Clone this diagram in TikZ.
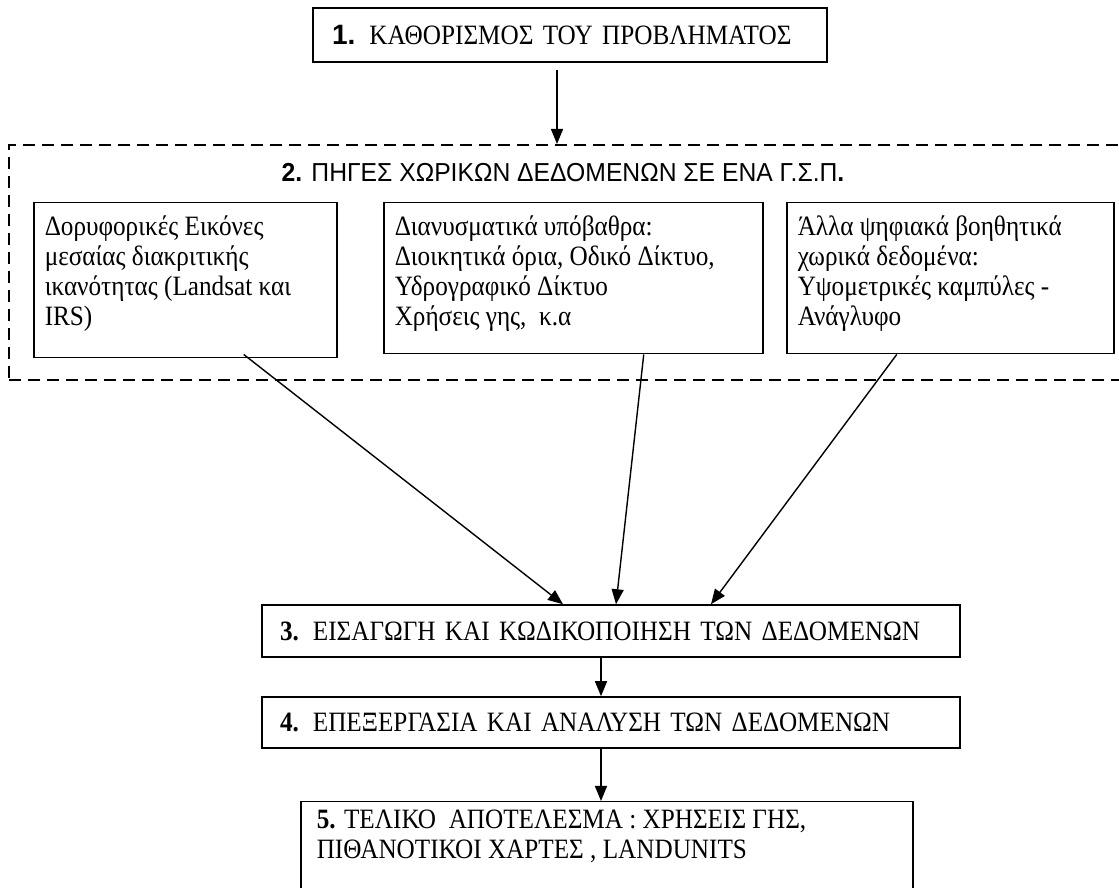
\documentclass[tikz,border=0pt]{standalone}
\usepackage{fontspec}
\setmainfont{Liberation Serif}[FakeStretch=0.9]
\newfontfamily\arialfont{Liberation Sans}
\newfontfamily\arialnarrow{Liberation Sans}[FakeStretch=0.95]
\newfontfamily\narrowfont{Liberation Serif}[FakeStretch=0.9]
\usetikzlibrary{arrows.meta}
\newcommand{\cellbox}[3]{\begin{minipage}[t][#2][t]{#1}\raggedright\fontsize{28}{30}\selectfont\strut #3\end{minipage}}
\newcommand{\lowbox}[3]{\begin{minipage}[t][#2][t]{#1}\raggedright\narrowfont\fontsize{28}{30}\selectfont\strut #3\end{minipage}}
\begin{document}
\begin{tikzpicture}[x=1pt,y=1pt,
  every node/.style={inner sep=0pt},
  frame/.style={draw=black, line width=1.5pt},
  arr/.style={draw=black, line width=1.4pt, -{Triangle[length=15pt,width=12pt]}},
  dashbox/.style={draw=black, line width=1.8pt, dash pattern=on 12pt off 7pt},
  txt/.style={font=\fontsize{28}{30}\selectfont},
  lowtxt/.style={font=\narrowfont\fontsize{28}{30}\selectfont}]
\useasboundingbox (0,0) rectangle (1119,888);
\clip (0,0) rectangle (1119,888);
\fill[white] (0,0) rectangle (1119,888);

% box 1
\node[frame, txt, minimum width=514pt, minimum height=54pt, text width=476pt,
      align=left, inner xsep=19pt] (b1) at (570,853)
  {{\arialfont\bfseries 1.} ΚΑΘΟΡΙΣΜΟΣ ΤΟΥ ΠΡΟΒΛΗΜΑΤΟΣ};

% dashed group
\node[dashbox, minimum width=1140pt, minimum height=235pt, anchor=north west] (grp) at (8,744) {};

\draw[arr] ([xshift=-13pt,yshift=-7pt]b1.south) -- ([xshift=-13pt]b1.south |- grp.north);

% title
\node[font=\arialnarrow\fontsize{26}{28}\selectfont, anchor=base] (t2) at (563,706)
  {{\bfseries 2.} ΠΗΓΕΣ ΧΩΡΙΚΩΝ ΔΕΔΟΜΕΝΩΝ ΣΕ ΕΝΑ Γ.Σ.Π{\bfseries .}};

% source boxes
\node[frame, anchor=north west, inner xsep=11pt, inner ysep=12pt] (bA) at (33,686)
  {\cellbox{281pt}{131pt}{Δορυφορικές Εικόνες\\ μεσαίας διακριτικής\\ ικανότητας (Landsat και\\ IRS)}};
\node[frame, anchor=north west, inner xsep=11pt, inner ysep=12pt] (bB) at (383,686)
  {\cellbox{357pt}{127pt}{Διανυσματικά υπόβαθρα:\\ Διοικητικά όρια, Οδικό Δίκτυο,\\ Υδρογραφικό Δίκτυο\\ Χρήσεις γης,\ \ κ.α}};
\node[frame, anchor=north west, inner xsep=11pt, inner ysep=12pt] (bC) at (786,686)
  {\cellbox{305pt}{127pt}{Άλλα ψηφιακά βοηθητικά\\ χωρικά δεδομένα:\\ Υψομετρικές καμπύλες -\\ Ανάγλυφο}};

% lower boxes
\node[frame, lowtxt, minimum width=698pt, minimum height=52pt, text width=662pt,
      align=left, inner xsep=18pt] (b3) at (611,257)
  {{\bfseries 3.} ΕΙΣΑΓΩΓΗ ΚΑΙ ΚΩΔΙΚΟΠΟΙΗΣΗ ΤΩΝ ΔΕΔΟΜΕΝΩΝ};
\node[frame, lowtxt, minimum width=698pt, minimum height=51pt, text width=662pt,
      align=left, inner xsep=18pt] (b4) at (611,165.5)
  {{\bfseries 4.} ΕΠΕΞΕΡΓΑΣΙΑ ΚΑΙ ΑΝΑΛΥΣΗ ΤΩΝ ΔΕΔΟΜΕΝΩΝ};
\node[frame, anchor=north west, inner xsep=16pt, inner ysep=6pt] (b5) at (300,87)
  {\lowbox{580pt}{110pt}{{\bfseries 5.} ΤΕΛΙΚΟ\ \ ΑΠΟΤΕΛΕΣΜΑ : ΧΡΗΣΕΙΣ ΓΗΣ,\\ ΠΙΘΑΝΟΤΙΚΟΙ ΧΑΡΤΕΣ , LANDUNITS}};

% connectors
\draw[arr] ([xshift=58.5pt,yshift=4pt]bA.south) -- ([xshift=-48pt]b3.north);
\draw[arr] ([xshift=70.5pt]bB.south) -- ([xshift=5pt]b3.north);
\draw[arr] ([xshift=-53.5pt]bC.south) -- ([xshift=100pt]b3.north);
\draw[arr] ([xshift=-10pt]b3.south) -- ([xshift=-10pt]b3.south |- b4.north);
\draw[arr] ([xshift=-10pt]b4.south) -- ([xshift=-10pt]b4.south |- b5.north);
\end{tikzpicture}
\end{document}
